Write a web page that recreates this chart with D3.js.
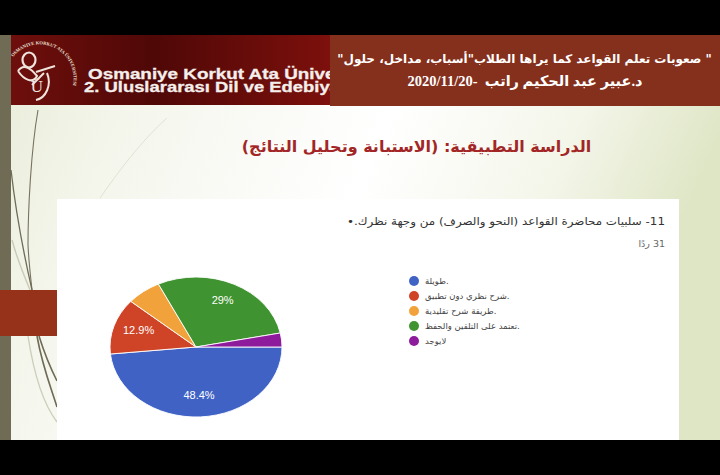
<!DOCTYPE html>
<html><head><meta charset="utf-8">
<script src="https://cdn.jsdelivr.net/npm/d3@7"></script>
<style>html,body{margin:0;padding:0;background:#000;overflow:hidden}svg{display:block}text{white-space:pre}</style>
</head><body><svg id="c" width="720" height="475"></svg>
<script>
const categories=["طويلة.","شرح نظري دون تطبيق.","طريقة شرح تقليدية.","تعتمد على التلقين والحفظ.","لايوجد"];
const values=[48.4,12.9,6.5,29,3.2];
const labels=["48.4%","12.9%","","29%",""];
const colors=["#3f62c4","#cf4427","#f2a23a","#3f9330","#8e1a9c"];
const headerLines=['" صعوبات تعلم القواعد كما يراها الطلاب"أسباب، مداخل، حلول"','د.عبير عبد الحكيم راتب  -2020/11/20'];
const bannerLines=["Osmaniye Korkut Ata Üniversitesi","2. Uluslararası Dil ve Edebiyat"];
const logoText="OSMANIYE KORKUT ATA ÜNIVERSITESI";
const slideTitle="الدراسة التطبيقية: (الاستبانة وتحليل النتائج)";
const question="11- سلبيات محاضرة القواعد (النحو والصرف) من وجهة نظرك.•";
const responses="31 ردًا";

const svg=d3.select("#c");
const defs=svg.append("defs");
const bg=defs.append("linearGradient").attr("id","bg").attr("x1",0).attr("y1",0).attr("x2",1).attr("y2",0.25);
[[0,"#e9ecd9"],[0.2,"#f4f6ec"],[0.55,"#ffffff"],[0.8,"#f4f6ea"],[1,"#dfe6c6"]].forEach(s=>bg.append("stop").attr("offset",s[0]).attr("stop-color",s[1]));
const hd=defs.append("linearGradient").attr("id","hd");
[[0,"#6e0f0c"],[0.45,"#4f0807"],[1,"#7c100c"]].forEach(s=>hd.append("stop").attr("offset",s[0]).attr("stop-color",s[1]));
defs.append("clipPath").attr("id","bannerClip").append("rect").attr("x",11).attr("y",35).attr("width",319).attr("height",70);
defs.append("path").attr("id","logoArc").attr("d","M13,57 A30,30 0 0 1 66,100");

svg.append("rect").attr("width",720).attr("height",475).attr("fill","#000");
svg.append("rect").attr("x",11).attr("y",35).attr("width",709).attr("height",405).attr("fill","url(#bg)");
svg.append("rect").attr("x",0).attr("y",35).attr("width",11).attr("height",405).attr("fill","#6f6b55");

// decorative grass strokes
const strokes=[
 ["M38,110 C31,150 28,210 28,245 C29,265 31,280 32,290","#77735f",1.1],
 ["M11,170 C15,205 24,255 32,290","#6f6b55",1.3],
 ["M37,336 C42,365 50,385 57,407","#6f6b55",1.6],
 ["M39,336 C44,352 50,367 57,381","#6f6b55",1.6],
 ["M12,240 C18,262 26,280 30,290","#c9cbb6",1.4],
 ["M28,336 C34,375 44,405 57,422","#cdcfbc",1.4],
 ["M100,198 C118,172 142,140 167,118","#d6d8c8",0.7]];
svg.append("g").attr("fill","none").selectAll("path").data(strokes).join("path")
 .attr("d",d=>d[0]).attr("stroke",d=>d[1]).attr("stroke-width",d=>d[2]);

// banner
svg.append("rect").attr("x",11).attr("y",35).attr("width",319).attr("height",70).attr("fill","url(#hd)");
const logo=svg.append("g").attr("fill","none").attr("stroke","#eee4dc");
logo.append("ellipse").attr("cx",29).attr("cy",60).attr("rx",6.5).attr("ry",7.5).attr("stroke-width",2.2);
logo.append("path").attr("d","M18,71 C24,62 32,70 37,76 C33,84 24,80 18,71 M36,72 L55,66 M44,73 L32,85 M47,73 C52,85 46,98 36,100").attr("stroke-width",2);
logo.append("text").attr("x",37).attr("y",92).attr("text-anchor","middle").attr("fill","#eee4dc").attr("stroke","none")
 .attr("font-family","Liberation Serif").attr("font-size",17).text("Ü");
logo.append("text").attr("fill","#eee4dc").attr("stroke","none").attr("font-family","Liberation Serif").attr("font-weight","bold")
 .attr("font-size",4.6).append("textPath").attr("href","#logoArc").text(logoText);

const banner=svg.append("g").attr("clip-path","url(#bannerClip)").attr("fill","#f4efec")
 .attr("font-family","Liberation Sans").attr("font-weight","bold").attr("stroke","#f4efec").attr("stroke-width",.3);
banner.append("text").attr("x",88).attr("y",78.5).attr("font-size",14.5).attr("textLength",303).attr("lengthAdjust","spacingAndGlyphs").text(bannerLines[0]);
banner.append("text").attr("x",84).attr("y",92).attr("font-size",14.5).attr("textLength",262).attr("lengthAdjust","spacingAndGlyphs").text(bannerLines[1]);

svg.append("rect").attr("x",330).attr("y",35).attr("width",390).attr("height",71).attr("fill","#85301c");
svg.append("text").attr("x",524.5).attr("y",63).attr("text-anchor","middle").attr("direction","rtl")
 .attr("font-family","DejaVu Sans").attr("font-weight","bold").attr("font-size",12).attr("fill","#fff").text(headerLines[0]);
svg.append("text").attr("x",525).attr("y",86).attr("text-anchor","middle").attr("direction","rtl")
 .attr("font-family","Liberation Serif, DejaVu Sans").attr("font-weight","bold").attr("font-size",14.5).attr("fill","#fff").text(headerLines[1]);

svg.append("text").attr("x",416.5).attr("y",152).attr("text-anchor","middle").attr("direction","rtl")
 .attr("font-family","DejaVu Sans").attr("font-weight","bold").attr("font-size",16).attr("fill","#a32626").text(slideTitle);

// panel
svg.append("rect").attr("x",57).attr("y",199).attr("width",622).attr("height",241).attr("fill","#fff");
svg.append("rect").attr("x",0).attr("y",290).attr("width",57).attr("height",46).attr("fill","#953219");
svg.append("text").attr("x",665).attr("y",225).attr("text-anchor","start").attr("direction","rtl")
 .attr("font-family","DejaVu Sans").attr("font-size",10.5).attr("fill","#333")
 .attr("textLength",318).attr("lengthAdjust","spacingAndGlyphs").text(question);
svg.append("text").attr("x",665).attr("y",247).attr("text-anchor","start").attr("direction","rtl")
 .attr("font-family","DejaVu Sans").attr("font-size",9.5).attr("fill","#666").text(responses);

// pie: starts at 3 o'clock as in the reference and is stretched into an ellipse
const rx=86, ry=70;
const pie=d3.pie().value(d=>d.v).sort(null).startAngle(Math.PI/2).endAngle(Math.PI*2.5);
const arc=d3.arc().innerRadius(0).outerRadius(1);
const arcs=pie(values.map((v,i)=>({v,i})));
const xS=d3.scaleLinear().domain([-1,1]).range([196-rx,196+rx]);
const yS=d3.scaleLinear().domain([-1,1]).range([347-ry,347+ry]);
const g=svg.append("g").attr("transform",`translate(${xS(0)},${yS(0)}) scale(${rx},${ry})`);
g.selectAll("path").data(arcs).join("path").attr("d",arc)
 .attr("fill",d=>colors[d.data.i]).attr("stroke","#fff").attr("stroke-width",.9)
 .attr("vector-effect","non-scaling-stroke");
svg.append("g").selectAll("text").data(arcs.filter(d=>labels[d.data.i])).join("text")
 .attr("x",d=>{const a=(d.startAngle+d.endAngle)/2;return xS(Math.sin(a)*.7)})
 .attr("y",d=>{const a=(d.startAngle+d.endAngle)/2;return yS(-Math.cos(a)*.72)+2})
 .attr("text-anchor","middle").attr("font-family","Liberation Sans").attr("font-size",11)
 .attr("fill","#fff").text(d=>labels[d.data.i]);

// legend
const ly=d3.scalePoint().domain(d3.range(categories.length)).range([281,341]);
const leg=svg.append("g").selectAll("g").data(categories).join("g").attr("transform",(d,i)=>`translate(0,${ly(i)})`);
leg.append("circle").attr("cx",414).attr("cy",0).attr("r",5).attr("fill",(d,i)=>colors[i]);
leg.append("text").attr("x",425).attr("y",3).attr("direction","ltr").attr("font-family","DejaVu Sans")
 .attr("font-size",8.5).attr("fill","#444").text(d=>d);
</script></body></html>
